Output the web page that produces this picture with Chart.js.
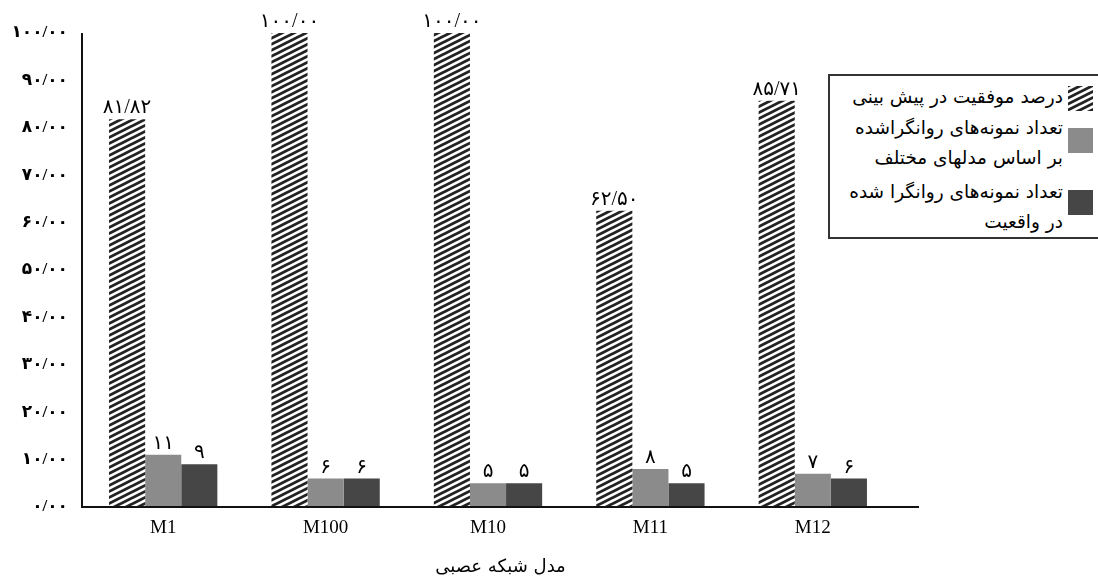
<!DOCTYPE html>
<html>
<head>
<meta charset="utf-8">
<script src="https://cdn.jsdelivr.net/npm/chart.js@4"></script>
<style>
  body { margin: 0; background: #fff; }
  #wrap { position: relative; width: 1098px; height: 585px; overflow: hidden; }
  #legend {
    position: absolute; left: 828px; top: 74px; width: 290px; height: 161px;
    border: 2px solid #333; background: #fff; direction: rtl;
    font-family: "DejaVu Sans", serif; font-size: 18.5px; color: #000;
  }
  .txt { position: absolute; right: 57px; line-height: 30px; text-align: right; white-space: nowrap; }
  .sw { position: absolute; left: 238px; width: 25px; height: 25px; }
</style>
</head>
<body>
<div id="wrap">
  <canvas id="myChart" width="1098" height="585"></canvas>
  <div id="legend"></div>
</div>
<script>
// data
const categories = ['M1', 'M100', 'M10', 'M11', 'M12'];
const successPct = [81.82, 100, 100, 62.5, 85.71];
const predictedCounts = [11, 6, 5, 8, 7];
const actualCounts = [9, 6, 5, 5, 6];
const seriesNames = [
    ['درصد موفقیت در پیش بینی'],
    ['تعداد نمونه‌های روانگراشده', 'بر اساس مدلهای مختلف'],
    ['تعداد نمونه‌های روانگرا شده', 'در واقعیت']
];
const xTitle = 'مدل شبکه عصبی';

const ctx = document.getElementById('myChart');
const faDigits = '۰۱۲۳۴۵۶۷۸۹';
const toFa = s => String(s).replace(/[0-9]/g, d => faDigits[d]).replace('.', '/');

// diagonal stripes, rising to the right
const makeHatch = (c2d) => {
    const c = document.createElement('canvas');
    c.width = 12; c.height = 6;
    const g = c.getContext('2d');
    g.fillStyle = '#fff';
    g.fillRect(0, 0, 12, 6);
    g.strokeStyle = '#222';
    g.lineWidth = 2.8;
    for (let k = -2; k <= 2; k++) {
        g.beginPath();
        g.moveTo(-12, 12 + 6 * k);
        g.lineTo(24, -6 + 6 * k);
        g.stroke();
    }
    return c2d.createPattern(c, 'repeat');
};

const hatch = makeHatch(ctx.getContext('2d'));
const colors = [hatch, '#8b8b8b', '#464646'];

const serif = '"Liberation Serif", "DejaVu Sans", serif';

const axesLines = {
    id: 'axesLines',
    afterDraw(chart) {
        const { ctx, chartArea: a } = chart;
        ctx.save();
        ctx.strokeStyle = '#111';
        ctx.lineWidth = 2;
        ctx.beginPath();
        ctx.moveTo(a.left, a.top);
        ctx.lineTo(a.left, a.bottom);
        ctx.lineTo(a.right + 25, a.bottom);
        ctx.stroke();
        // axis title, centred under the drawn axis line
        ctx.fillStyle = '#000';
        ctx.font = '18px "DejaVu Sans", serif';
        ctx.textAlign = 'center';
        ctx.textBaseline = 'middle';
        ctx.fillText(xTitle, (a.left + a.right + 25) / 2, 567);
        ctx.restore();
    }
};

const barLabels = {
    id: 'barLabels',
    afterDatasetsDraw(chart) {
        const { ctx } = chart;
        ctx.save();
        ctx.fillStyle = '#000';
        ctx.font = '20px ' + serif;
        ctx.textAlign = 'center';
        ctx.textBaseline = 'alphabetic';
        chart.data.datasets.forEach((ds, i) => {
            chart.getDatasetMeta(i).data.forEach((bar, j) => {
                const v = ds.data[j];
                const txt = i === 0 ? toFa(v.toFixed(2)) : toFa(v);
                ctx.fillText(txt, bar.x, bar.y - 6);
            });
        });
        ctx.restore();
    }
};

new Chart(ctx, {
    type: 'bar',
    data: {
        labels: categories,
        datasets: [
            { label: seriesNames[0].join(' '), data: successPct, backgroundColor: colors[0] },
            { label: seriesNames[1].join(' '), data: predictedCounts, backgroundColor: colors[1] },
            { label: seriesNames[2].join(' '), data: actualCounts, backgroundColor: colors[2] }
        ]
    },
    options: {
        responsive: false,
        animation: false,
        layout: { padding: { top: 33, right: 204, left: 0, bottom: 0 } },
        datasets: { bar: { categoryPercentage: 0.667, barPercentage: 1 } },
        scales: {
            x: {
                grid: { display: false, drawTicks: false },
                border: { display: false },
                ticks: { color: '#000', padding: 10, font: { family: serif, size: 19 } },
                afterFit(scale) { scale.height = 78; }
            },
            y: {
                min: 0, max: 100,
                grid: { display: false, drawTicks: false },
                border: { display: false },
                ticks: {
                    stepSize: 10, color: '#000', padding: 14,
                    font: { family: serif, size: 17, weight: 'bold' },
                    callback: v => toFa(v.toFixed(2))
                },
                afterFit(scale) { scale.width = 82; }
            }
        },
        plugins: {
            legend: { display: false },
            tooltip: { enabled: false }
        }
    },
    plugins: [axesLines, barLabels]
});

// legend
const legend = document.getElementById('legend');
const textTops = [6, 37, 101];
const swatchTops = [10, 52, 114];
seriesNames.forEach((lines, i) => {
    const sw = document.createElement('canvas');
    sw.className = 'sw';
    sw.width = 25; sw.height = 25;
    sw.style.top = swatchTops[i] + 'px';
    const g = sw.getContext('2d');
    g.fillStyle = i === 0 ? makeHatch(g) : colors[i];
    g.fillRect(0, 0, 25, 25);
    const txt = document.createElement('div');
    txt.className = 'txt';
    txt.style.top = textTops[i] + 'px';
    txt.innerHTML = lines.join('<br>');
    legend.appendChild(sw);
    legend.appendChild(txt);
});
</script>
</body>
</html>
